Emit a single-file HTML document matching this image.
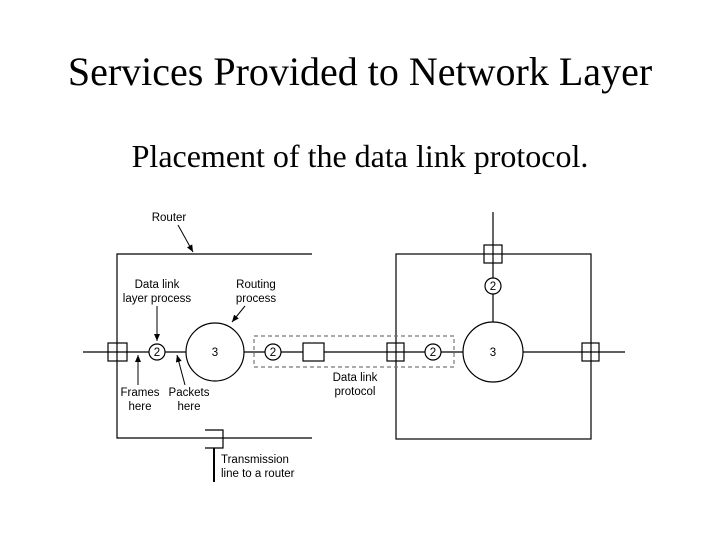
<!DOCTYPE html>
<html><head><style>
body{margin:0;background:#fff;width:720px;height:540px;overflow:hidden;position:relative;font-family:"Liberation Serif",serif}
.t{position:absolute;left:0;width:720px;text-align:center;color:#000;white-space:nowrap}
</style></head><body>
<div class="t" style="top:48px;font-size:40px">Services Provided to Network Layer</div>
<div class="t" style="top:138px;font-size:32px">Placement of the data link protocol.</div>
<svg width="720" height="540" style="position:absolute;left:0;top:0" font-family="Liberation Sans, sans-serif" font-size="11">
<defs><marker id="a" markerWidth="8" markerHeight="8" refX="7" refY="4" orient="auto"><path d="M0,1L7,4L0,7z" fill="#000"/></marker></defs>
<g stroke="#000" stroke-width="1.2" fill="none">
<path d="M312,254H117V438H312"/>
<rect x="396" y="254" width="195" height="185"/>
<line x1="83" y1="352" x2="625" y2="352"/>
<line x1="493" y1="212" x2="493" y2="322"/>
<rect x="254" y="336" width="200" height="31" stroke="#777" stroke-dasharray="4,3"/>
</g>
<g stroke="#000" stroke-width="1.2" fill="none">
<rect x="108" y="343" width="19" height="18"/>
<rect x="303" y="343" width="21" height="18" fill="#fff"/>
<rect x="387" y="343" width="17" height="18"/>
<rect x="582" y="343" width="17" height="18"/>
<rect x="484" y="245" width="18" height="18"/>
<circle cx="157" cy="352" r="8" fill="#fff"/>
<circle cx="273" cy="352" r="8" fill="#fff"/>
<circle cx="433" cy="352" r="8" fill="#fff"/>
<circle cx="493" cy="286" r="8" fill="#fff"/>
<circle cx="215" cy="352" r="29" fill="#fff"/>
<circle cx="493" cy="352" r="30" fill="#fff"/>
</g>
<g font-size="11.5" text-anchor="middle">
<text x="157" y="356">2</text><text x="273" y="356">2</text><text x="433" y="356">2</text><text x="493" y="290">2</text>
<text x="215" y="356">3</text><text x="493" y="356">3</text>
<text x="169" y="221">Router</text>
<text x="157" y="288">Data link</text><text x="157" y="302">layer process</text>
<text x="256" y="288">Routing</text><text x="256" y="302">process</text>
<text x="140" y="396">Frames</text><text x="140" y="410">here</text>
<text x="189" y="396">Packets</text><text x="189" y="410">here</text>
<text x="355" y="381">Data link</text><text x="355" y="395">protocol</text>
</g>
<text x="221" y="463" font-size="11.5">Transmission</text>
<text x="221" y="477" font-size="11.5">line to a router</text>
<g stroke="#000" stroke-width="1" fill="none" marker-end="url(#a)">
<line x1="178" y1="225" x2="193" y2="252"/>
<line x1="157" y1="306" x2="157" y2="341"/>
<line x1="245" y1="306" x2="232" y2="322"/>
<line x1="138" y1="385" x2="138" y2="355"/>
<line x1="185" y1="385" x2="177" y2="355"/>
</g>
<path d="M205,430H223V448H205" stroke="#000" stroke-width="1.2" fill="none"/>
<line x1="214" y1="448" x2="214" y2="482" stroke="#000" stroke-width="2"/>
</svg>
</body></html>
